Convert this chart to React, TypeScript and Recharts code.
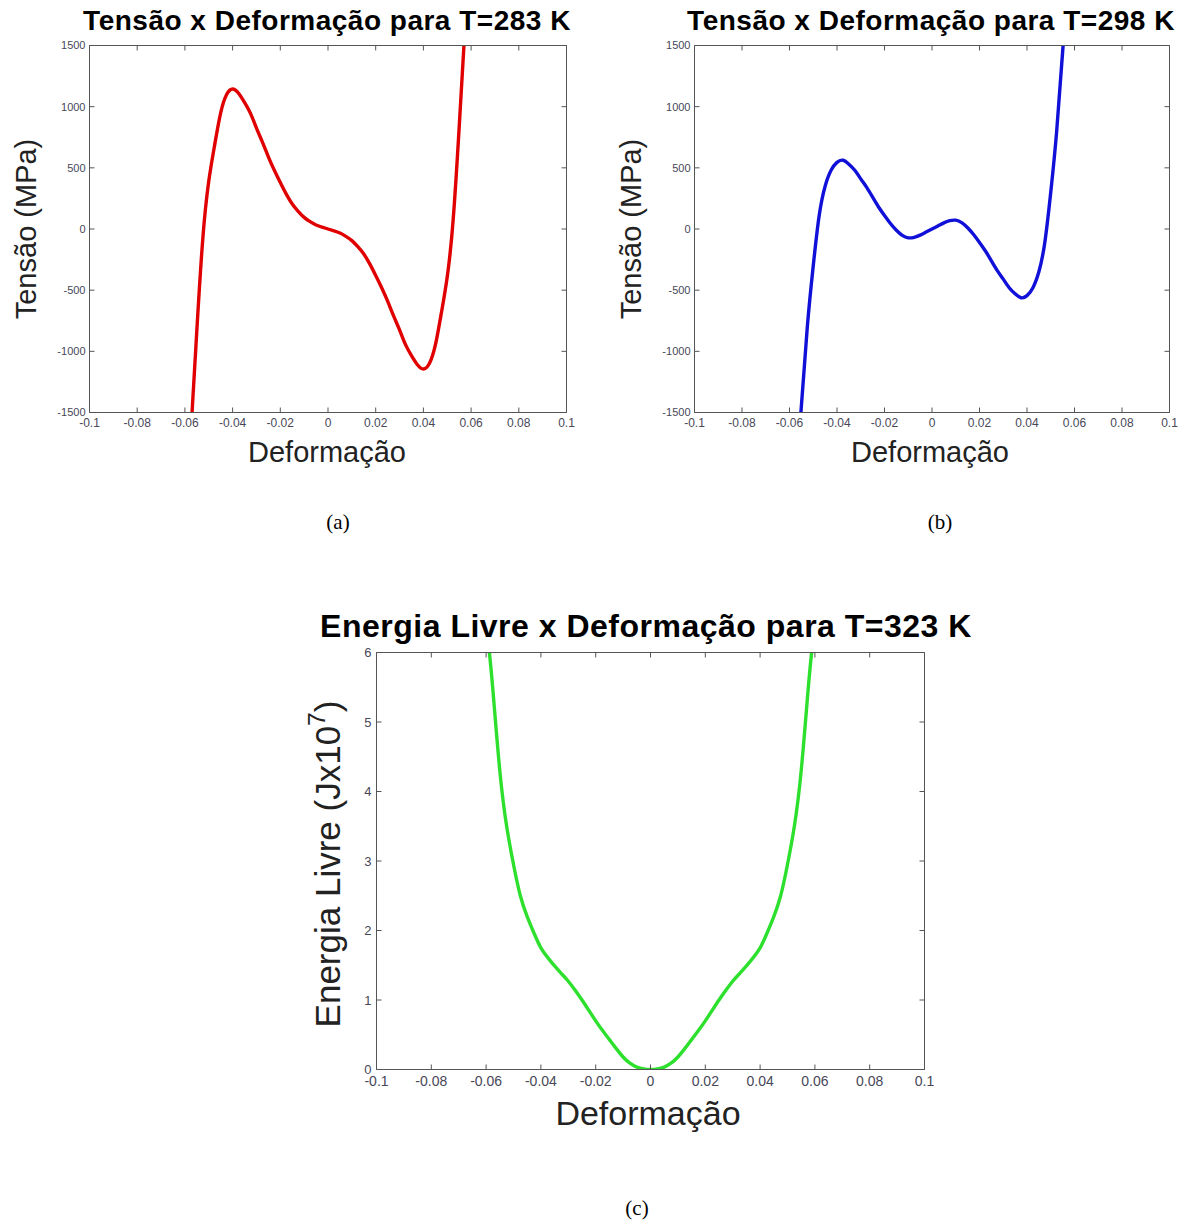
import React from 'react'
import { LineChart, Line, XAxis, YAxis } from 'recharts'

const SANS = '"Liberation Sans", Arial, Helvetica, sans-serif'
const SERIF = '"Liberation Serif", "Times New Roman", serif'

// shared x axis
const strainTicks = [-0.1, -0.08, -0.06, -0.04, -0.02, 0, 0.02, 0.04, 0.06, 0.08, 0.1]
const stressTicks = [-1500, -1000, -500, 0, 500, 1000, 1500]
const energyTicks = [0, 1, 2, 3, 4, 5, 6]

// T = 283 K
const strain283 = [
  -0.057, -0.055, -0.0525, -0.05, -0.0475, -0.045, -0.0425, -0.04, -0.0375, -0.035, -0.0325, -0.03,
  -0.0275, -0.025, -0.0225, -0.02, -0.0175, -0.015, -0.0125, -0.01, -0.0075, -0.005, -0.0025, 0,
  0.0025, 0.005, 0.0075, 0.01, 0.0125, 0.015, 0.0175, 0.02, 0.0225, 0.025, 0.0275, 0.03,
  0.0325, 0.035, 0.0375, 0.04, 0.0425, 0.045, 0.0475, 0.05, 0.0525, 0.055, 0.057,
]
const stress283 = [
  -1500, -830, -80, 390, 690, 950, 1100, 1145, 1110, 1035, 945, 825,
  710, 590, 480, 380, 285, 205, 145, 95, 60, 33, 15, 0,
  -15, -33, -60, -95, -145, -205, -285, -380, -480, -590, -710, -825,
  -945, -1035, -1110, -1145, -1100, -950, -690, -390, 80, 830, 1500,
]

// T = 298 K
const strain298 = [
  -0.0552, -0.0525, -0.05, -0.0475, -0.045, -0.0425, -0.04, -0.0375, -0.035, -0.0325, -0.03,
  -0.0275, -0.025, -0.0225, -0.02, -0.0175, -0.015, -0.0125, -0.01, -0.0075, -0.005, -0.0025, 0,
  0.0025, 0.005, 0.0075, 0.01, 0.0125, 0.015, 0.0175, 0.02, 0.0225, 0.025, 0.0275, 0.03,
  0.0325, 0.035, 0.0375, 0.04, 0.0425, 0.045, 0.0475, 0.05, 0.0525, 0.0552,
]
const stress298 = [
  -1500, -800, -300, 110, 350, 480, 545, 562, 530, 480, 410,
  340, 260, 180, 110, 45, -10, -52, -72, -68, -50, -25, 0,
  25, 50, 68, 72, 52, 10, -45, -110, -180, -260, -340, -410,
  -480, -530, -562, -545, -480, -350, -110, 300, 800, 1500,
]

// T = 323 K (free energy, x10^7 J)
const strain323 = [
  -0.0588, -0.0575, -0.055, -0.0525, -0.05, -0.0475, -0.045, -0.0425, -0.04, -0.0375, -0.035, -0.0325,
  -0.03, -0.0275, -0.025, -0.0225, -0.02, -0.0175, -0.015, -0.0125, -0.01, -0.0075, -0.005, -0.0025, 0,
  0.0025, 0.005, 0.0075, 0.01, 0.0125, 0.015, 0.0175, 0.02, 0.0225, 0.025, 0.0275, 0.03,
  0.0325, 0.035, 0.0375, 0.04, 0.0425, 0.045, 0.0475, 0.05, 0.0525, 0.055, 0.0575, 0.0588,
]
const energy323 = [
  6, 5.45, 4.3, 3.5, 2.95, 2.5, 2.2, 1.96, 1.75, 1.61, 1.49, 1.38,
  1.27, 1.14, 1.0, 0.85, 0.7, 0.56, 0.43, 0.3, 0.18, 0.09, 0.035, 0.008, 0,
  0.008, 0.035, 0.09, 0.18, 0.3, 0.43, 0.56, 0.7, 0.85, 1.0, 1.14, 1.27,
  1.38, 1.49, 1.61, 1.75, 1.96, 2.2, 2.5, 2.95, 3.5, 4.3, 5.45, 6,
]

const toRows = (xs: number[], ys: number[]) => xs.map((x, i) => ({ x, y: ys[i] }))

// plot box edges inside each chart's own svg
type Box = { left: number; right: number; top: number; bottom: number }

type PlotProps = {
  rows: { x: number; y: number }[]
  yDomain: [number, number]
  yTicks: number[]
  color: string
  width: number
  height: number
  box: Box
  xFont: number
  yFont: number
  xGap: number
  yGap: number
}

const AXIS = '#555'
const TICK_TEXT = '#474757'
const LEFT_W = 40
const BOTTOM_H = 30
const X_DOMAIN: [number, number] = [-0.1, 0.1]

// tick marks without labels
const noLabel = () => <g />

// boxed matlab-style axes: labels outside, tick marks pointing inward on all four sides
function Plot({ rows, yDomain, yTicks, color, width, height, box, xFont, yFont, xGap, yGap }: PlotProps) {
  const margin = {
    left: box.left - LEFT_W,
    right: width - box.right,
    top: box.top,
    bottom: height - box.bottom - BOTTOM_H,
  }
  return (
    <LineChart width={width} height={height} data={rows} margin={margin}>
      <XAxis
        xAxisId="bottom"
        type="number"
        dataKey="x"
        domain={X_DOMAIN}
        ticks={strainTicks}
        interval={0}
        allowDataOverflow
        height={BOTTOM_H}
        tickLine={false}
        tickSize={0}
        tickMargin={xGap}
        stroke={AXIS}
        tick={{ fill: TICK_TEXT, fontSize: xFont, fontFamily: SANS }}
        tickFormatter={(v: number) => String(v)}
      />
      <XAxis
        xAxisId="bottomIn"
        type="number"
        dataKey="x"
        domain={X_DOMAIN}
        ticks={strainTicks}
        interval={0}
        allowDataOverflow
        mirror
        height={5}
        tickSize={5}
        axisLine={false}
        stroke={AXIS}
        tick={noLabel}
      />
      <XAxis
        xAxisId="top"
        orientation="top"
        type="number"
        dataKey="x"
        domain={X_DOMAIN}
        ticks={strainTicks}
        interval={0}
        allowDataOverflow
        mirror
        height={5}
        tickSize={5}
        stroke={AXIS}
        tick={noLabel}
      />
      <YAxis
        yAxisId="left"
        type="number"
        domain={yDomain}
        ticks={yTicks}
        interval={0}
        allowDataOverflow
        width={LEFT_W}
        tickLine={false}
        tickSize={0}
        tickMargin={yGap}
        stroke={AXIS}
        tick={{ fill: TICK_TEXT, fontSize: yFont, fontFamily: SANS }}
      />
      <YAxis
        yAxisId="leftIn"
        type="number"
        domain={yDomain}
        ticks={yTicks}
        interval={0}
        allowDataOverflow
        mirror
        width={5}
        tickSize={5}
        axisLine={false}
        stroke={AXIS}
        tick={noLabel}
      />
      <YAxis
        yAxisId="right"
        orientation="right"
        type="number"
        domain={yDomain}
        ticks={yTicks}
        interval={0}
        allowDataOverflow
        mirror
        width={5}
        tickSize={5}
        stroke={AXIS}
        tick={noLabel}
      />
      <Line
        xAxisId="bottom"
        yAxisId="left"
        type="natural"
        dataKey="y"
        stroke={color}
        strokeWidth={3.4}
        dot={false}
        activeDot={false}
        isAnimationActive={false}
      />
    </LineChart>
  )
}

type TextProps = {
  x: number
  y: number
  size: number
  bold?: boolean
  vertical?: boolean
  serif?: boolean
  spacing?: number
  color?: string
  children: React.ReactNode
}

function Text({ x, y, size, bold, vertical, serif, spacing, color, children }: TextProps) {
  return (
    <div
      style={{
        position: 'absolute',
        left: x,
        top: y,
        transform: `translate(-50%, -50%)${vertical ? ' rotate(-90deg)' : ''}`,
        fontSize: size,
        fontWeight: bold ? 700 : 400,
        fontFamily: serif ? SERIF : SANS,
        letterSpacing: spacing ?? 0,
        lineHeight: 1,
        whiteSpace: 'nowrap',
        color: color ?? '#111',
      }}
    >
      {children}
    </div>
  )
}

export default function App() {
  return (
    <div style={{ position: 'absolute', left: 0, top: 0, width: 1187, height: 1221, background: '#fff', overflow: 'hidden' }}>
      {/* (a) */}
      <div style={{ position: 'absolute', left: 0, top: 0 }}>
        <Plot
          rows={toRows(strain283, stress283)}
          yDomain={[-1500, 1500]}
          yTicks={stressTicks}
          color="#e00000"
          width={600}
          height={470}
          box={{ left: 89.5, right: 566.5, top: 45.5, bottom: 412.5 }}
          xFont={12}
          yFont={11}
          xGap={6}
          yGap={4}
        />
      </div>
      <Text x={327} y={21} size={28} bold spacing={0.5} color="#000">Tensão x Deformação para T=283 K</Text>
      <Text x={26} y={229} size={29} vertical color="#222">Tensão (MPa)</Text>
      <Text x={327} y={452} size={29} color="#222">Deformação</Text>
      <Text x={338} y={522} size={21} serif color="#000">(a)</Text>

      {/* (b) */}
      <div style={{ position: 'absolute', left: 600, top: 0 }}>
        <Plot
          rows={toRows(strain298, stress298)}
          yDomain={[-1500, 1500]}
          yTicks={stressTicks}
          color="#1010d8"
          width={587}
          height={470}
          box={{ left: 94.5, right: 569.5, top: 45.5, bottom: 412.5 }}
          xFont={12}
          yFont={11}
          xGap={6}
          yGap={4}
        />
      </div>
      <Text x={931} y={21} size={28} bold spacing={0.5} color="#000">Tensão x Deformação para T=298 K</Text>
      <Text x={631} y={229} size={29} vertical color="#222">Tensão (MPa)</Text>
      <Text x={930} y={452} size={29} color="#222">Deformação</Text>
      <Text x={940} y={522} size={21} serif color="#000">(b)</Text>

      {/* (c) */}
      <div style={{ position: 'absolute', left: 300, top: 600 }}>
        <Plot
          rows={toRows(strain323, energy323)}
          yDomain={[0, 6]}
          yTicks={energyTicks}
          color="#2ee02e"
          width={650}
          height={500}
          box={{ left: 76.5, right: 624.5, top: 52.5, bottom: 469.5 }}
          xFont={14}
          yFont={13}
          xGap={6.5}
          yGap={5}
        />
      </div>
      <Text x={646} y={626} size={32} bold spacing={0.5} color="#000">Energia Livre x Deformação para T=323 K</Text>
      <Text x={327} y={864} size={35} vertical color="#222">
        Energia Livre (Jx10<sup style={{ fontSize: '0.7em', verticalAlign: '0.6em', lineHeight: 0 }}>7</sup>)
      </Text>
      <Text x={648} y={1113} size={34} color="#222">Deformação</Text>
      <Text x={637} y={1208} size={21} serif color="#000">(c)</Text>
    </div>
  )
}
